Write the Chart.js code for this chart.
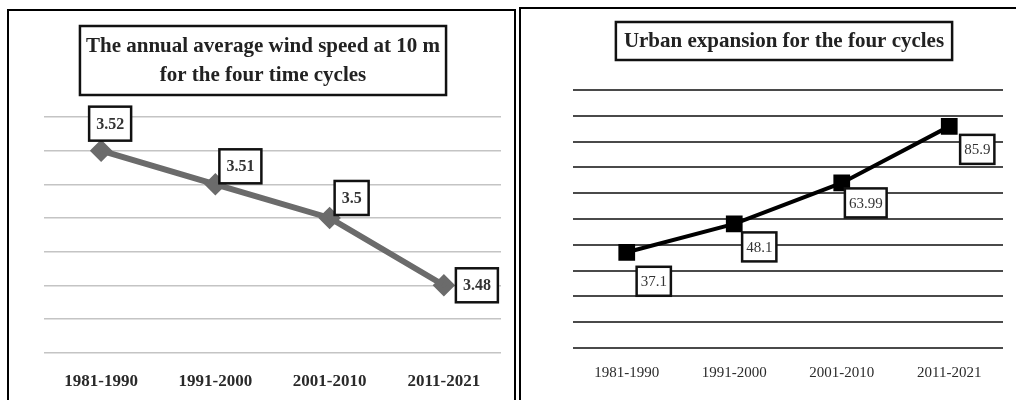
<!DOCTYPE html>
<html>
<head>
<meta charset="utf-8">
<script src="https://cdn.jsdelivr.net/npm/chart.js@4"></script>
<style>
  html, body { margin: 0; padding: 0; background: #fff; overflow: hidden; }
  body { width: 1016px; height: 400px; position: relative; }
  .panel { position: absolute; border: 2px solid #000; background: #fff; overflow: hidden; }
  #leftPanel { left: 7px; top: 9px; width: 505px; height: 400px; }
  #rightPanel { left: 519px; top: 7px; width: 510px; height: 400px; }
  canvas { position: absolute; left: 0; top: 0; }
</style>
</head>
<body>
<div class="panel" id="leftPanel"><canvas id="windChart" width="505" height="402"></canvas></div>
<div class="panel" id="rightPanel"><canvas id="urbanChart" width="495" height="400"></canvas></div>
<script>
// time cycles shared by both charts
const cycles = ['1981-1990', '1991-2000', '2001-2010', '2011-2021'];
// annual average wind speed at 10 m (m/s)
const windSpeed = [3.52, 3.51, 3.5, 3.48];
// urban expansion
const urbanExpansion = [37.1, 48.1, 63.99, 85.9];

const windTitle = ['The annual average wind speed at 10 m', 'for the four time cycles'];
const urbanTitle = ['Urban expansion for the four cycles'];

// Title drawn inside a framed box
const boxedTitle = {
  id: 'boxedTitle',
  afterDraw(chart, args, opts) {
    const ctx = chart.ctx;
    ctx.save();
    ctx.font = opts.font;
    const widths = opts.lines.map(l => ctx.measureText(l).width);
    const w = Math.max(...widths) + opts.padX * 2;
    ctx.lineWidth = 2.5;
    ctx.strokeStyle = '#111';
    ctx.strokeRect(opts.centerX - w / 2, opts.top, w, opts.bottom - opts.top);
    ctx.fillStyle = '#222';
    ctx.textAlign = 'center';
    ctx.textBaseline = 'middle';
    opts.lines.forEach((line, i) => {
      ctx.fillText(line, opts.centerX, opts.lineY[i]);
    });
    ctx.restore();
  }
};

// Value labels in small framed boxes next to each point
const boxedLabels = {
  id: 'boxedLabels',
  afterDatasetsDraw(chart, args, opts) {
    const ctx = chart.ctx;
    const meta = chart.getDatasetMeta(0);
    const values = chart.data.datasets[0].data;
    ctx.save();
    ctx.font = opts.font;
    ctx.textAlign = 'center';
    ctx.textBaseline = 'middle';
    meta.data.forEach((pt, i) => {
      const text = String(values[i]);
      const [dx, dy] = opts.offsets[i];
      const cx = pt.x + dx;
      const cy = pt.y + dy;
      const w = ctx.measureText(text).width + opts.padX * 2;
      const h = opts.boxHeight;
      ctx.fillStyle = '#fff';
      ctx.fillRect(cx - w / 2, cy - h / 2, w, h);
      ctx.lineWidth = 2.5;
      ctx.strokeStyle = '#111';
      ctx.strokeRect(cx - w / 2, cy - h / 2, w, h);
      ctx.fillStyle = '#333';
      ctx.fillText(text, cx, cy + 1);
    });
    ctx.restore();
  }
};

new Chart(document.getElementById('windChart'), {
  type: 'line',
  data: {
    labels: cycles,
    datasets: [{
      data: windSpeed,
      borderColor: '#6b6b6b',
      backgroundColor: '#6b6b6b',
      borderWidth: 6,
      pointStyle: 'rectRot',
      pointRadius: 7,
      tension: 0
    }]
  },
  plugins: [boxedTitle, boxedLabels],
  options: {
    responsive: false,
    animation: false,
    layout: { padding: { left: 35, right: 13, top: 106, bottom: 10 } },
    scales: {
      x: {
        offset: true,
        grid: { display: false },
        border: { display: false },
        ticks: { padding: 11, color: '#2a2a2a', font: { family: 'Liberation Serif', size: 17, weight: 'bold' } }
      },
      y: {
        min: 3.46,
        max: 3.53,
        grid: { color: '#c4c4c4', lineWidth: 1.5, drawTicks: false },
        border: { display: false },
        ticks: { display: false, count: 8 }
      }
    },
    plugins: {
      legend: { display: false },
      tooltip: { enabled: false },
      boxedTitle: {
        lines: windTitle,
        font: 'bold 21px "Liberation Serif"',
        centerX: 254,
        top: 15,
        bottom: 84,
        lineY: [36, 65],
        padX: 6
      },
      boxedLabels: {
        font: 'bold 16px "Liberation Serif"',
        offsets: [[9, -27], [25, -18], [22, -20], [33, 0]],
        padX: 7,
        boxHeight: 34
      }
    }
  }
});

new Chart(document.getElementById('urbanChart'), {
  type: 'line',
  data: {
    labels: cycles,
    datasets: [{
      data: urbanExpansion,
      borderColor: '#000',
      backgroundColor: '#000',
      borderWidth: 4,
      pointStyle: 'rect',
      pointRadius: 9,
      tension: 0
    }]
  },
  plugins: [boxedTitle, boxedLabels],
  options: {
    responsive: false,
    animation: false,
    layout: { padding: { left: 52, right: 13, top: 81, bottom: 19 } },
    scales: {
      x: {
        offset: true,
        grid: { display: false },
        border: { display: false },
        ticks: { padding: 8, color: '#2a2a2a', font: { family: 'Liberation Serif', size: 15 } }
      },
      y: {
        min: 0,
        max: 100,
        grid: { color: '#4a4a4a', lineWidth: 2, drawTicks: false },
        border: { display: false },
        ticks: { display: false, stepSize: 10 }
      }
    },
    plugins: {
      legend: { display: false },
      tooltip: { enabled: false },
      boxedTitle: {
        lines: urbanTitle,
        font: 'bold 21px "Liberation Serif"',
        centerX: 263,
        top: 13,
        bottom: 51,
        lineY: [33],
        padX: 8
      },
      boxedLabels: {
        font: '15px "Liberation Serif"',
        offsets: [[27, 29], [25, 23], [24, 20], [28, 23]],
        padX: 4,
        boxHeight: 29
      }
    }
  }
});
</script>
</body>
</html>
